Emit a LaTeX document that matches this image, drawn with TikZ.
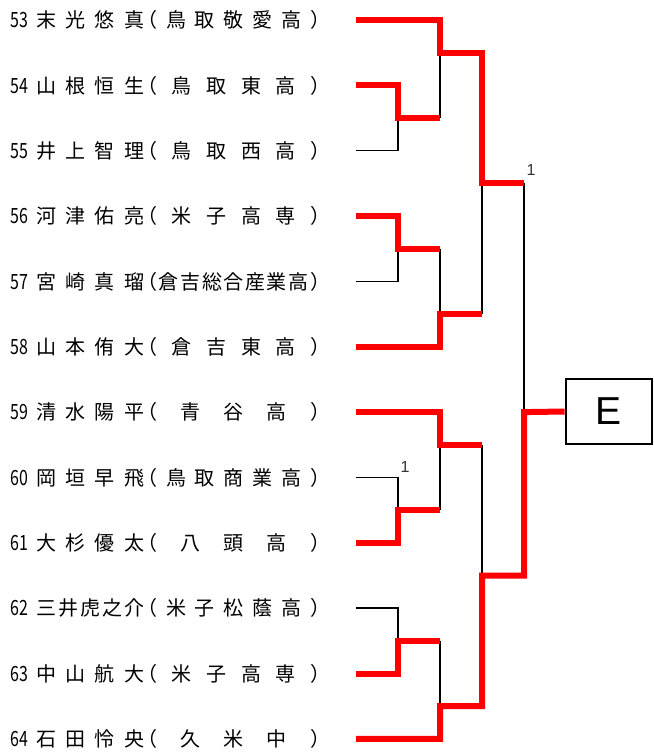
\documentclass[tikz,border=0pt]{standalone}
\usepackage{fontspec}
\usepackage{xcolor}
\usetikzlibrary{positioning,calc}
\newfontfamily\jpfont{Noto Sans CJK JP}
\newfontfamily\numfont[FakeStretch=0.76]{Noto Sans CJK JP}
\newfontfamily\latfont{Liberation Sans}
% spread the characters of a field evenly
\newcommand\spreadchars[1]{\spreadfirst#1\relax}
\def\spreadfirst#1{#1\spreadnext}
\def\spreadnext#1{\ifx#1\relax\else\hfill#1\expandafter\spreadnext\fi}
\newcommand\entry[3]{\hbox to 26pt{\numfont\fontsize{21}{24}\selectfont#1\hss}\hbox to 108pt{\spreadchars{#2}}\kern-7pt （\hbox to 153pt{\hfill\spreadchars{#3}\hfill}）}
\begin{document}
\begin{tikzpicture}[x=1pt,y=-1pt,
  player/.style={anchor=west,inner sep=0pt,font=\jpfont\fontsize{20}{24}\selectfont},
  lose/.style={draw=black,line width=1.5pt},
  win/.style={draw=red,line width=6pt},
  score/.style={inner sep=0pt,font=\latfont\fontsize{16}{17}\selectfont,text=black!80},
  block/.style={draw,line width=2pt,minimum width=86pt,minimum height=65pt,inner sep=0pt,font=\latfont\fontsize{39}{40}\selectfont}]
    \useasboundingbox (0,0) rectangle (653,752);
    % players
    \node[player] (p53) at (10,20) {\entry{53}{末光悠真}{鳥取敬愛高}};
    \node[player] (p54) at (10,85.4) {\entry{54}{山根恒生}{鳥取東高}};
    \node[player] (p55) at (10,150.7) {\entry{55}{井上智理}{鳥取西高}};
    \node[player] (p56) at (10,216) {\entry{56}{河津佑亮}{米子高専}};
    \node[player] (p57) at (10,281.4) {\entry{57}{宮崎真瑠}{倉吉総合産業高}};
    \node[player] (p58) at (10,346.8) {\entry{58}{山本侑大}{倉吉東高}};
    \node[player] (p59) at (10,412.1) {\entry{59}{清水陽平}{青谷高}};
    \node[player] (p60) at (10,477.5) {\entry{60}{岡垣早飛}{鳥取商業高}};
    \node[player] (p61) at (10,542.8) {\entry{61}{大杉優太}{八頭高}};
    \node[player] (p62) at (10,608.2) {\entry{62}{三井虎之介}{米子松蔭高}};
    \node[player] (p63) at (10,673.5) {\entry{63}{中山航大}{米子高専}};
    \node[player] (p64) at (10,738.9) {\entry{64}{石田怜央}{久米中}};
    % line starts
    \coordinate (r53) at (356,20);
    \coordinate (r54) at (356,85.4);
    \coordinate (r55) at (356,150.7);
    \coordinate (r56) at (356,216);
    \coordinate (r57) at (356,281.4);
    \coordinate (r58) at (356,346.8);
    \coordinate (r59) at (356,412.1);
    \coordinate (r60) at (356,477.5);
    \coordinate (r61) at (356,542.8);
    \coordinate (r62) at (356,608.2);
    \coordinate (r63) at (356,673.5);
    \coordinate (r64) at (356,738.9);
    % junctions
    \coordinate (a1) at (398,118);
    \coordinate (a2) at (398,248.7);
    \coordinate (a3) at (398,510.1);
    \coordinate (a4) at (398,640.9);
    \coordinate (b1) at (440,52.7);
    \coordinate (b2) at (440,314.1);
    \coordinate (b3) at (440,444.8);
    \coordinate (b4) at (440,706.2);
    \coordinate (c1) at (482,183.4);
    \coordinate (c2) at (482,575.5);
    \coordinate (fin) at (524,412.1);
    \node[block] (E) at (608.7,411.5) {E};
    % lost
    \draw[lose] (r55) -| (a1);
    \draw[lose] (a1 -| b1) -- (b1);
    \draw[lose] (r57) -| (a2);
    \draw[lose] (a2 -| b2) -- (b2);
    \draw[lose] (b2 -| c1) -- (c1);
    \draw[lose] (c1 -| fin) -- (fin);
    \draw[lose] (r60) -| (a3);
    \draw[lose] (a3 -| b3) -- (b3);
    \draw[lose] (b3 -| c2) -- (c2);
    \draw[lose] (r62) -| (a4);
    \draw[lose] (a4 -| b4) -- (b4);
    % won
    \draw[win] (r53) -| (b1) -| (c1) -- (c1 -| fin);
    \draw[win] (r54) -| (a1) -- (a1 -| b1);
    \draw[win] (r56) -| (a2) -- (a2 -| b2);
    \draw[win] (r58) -| (b2) -- (b2 -| c1);
    \draw[win] (r59) -| (b3) -- (b3 -| c2);
    \draw[win] (r61) -| (a3) -- (a3 -| b3);
    \draw[win] (r63) -| (a4) -- (a4 -| b4);
    \draw[win] (r64) -| (b4) -| (c2) -| (fin) -- (E.west);
    % scores
    \node[score] (s1) at (531,170) {1};
    \node[score] (s2) at (405,467) {1};
\end{tikzpicture}
\end{document}
